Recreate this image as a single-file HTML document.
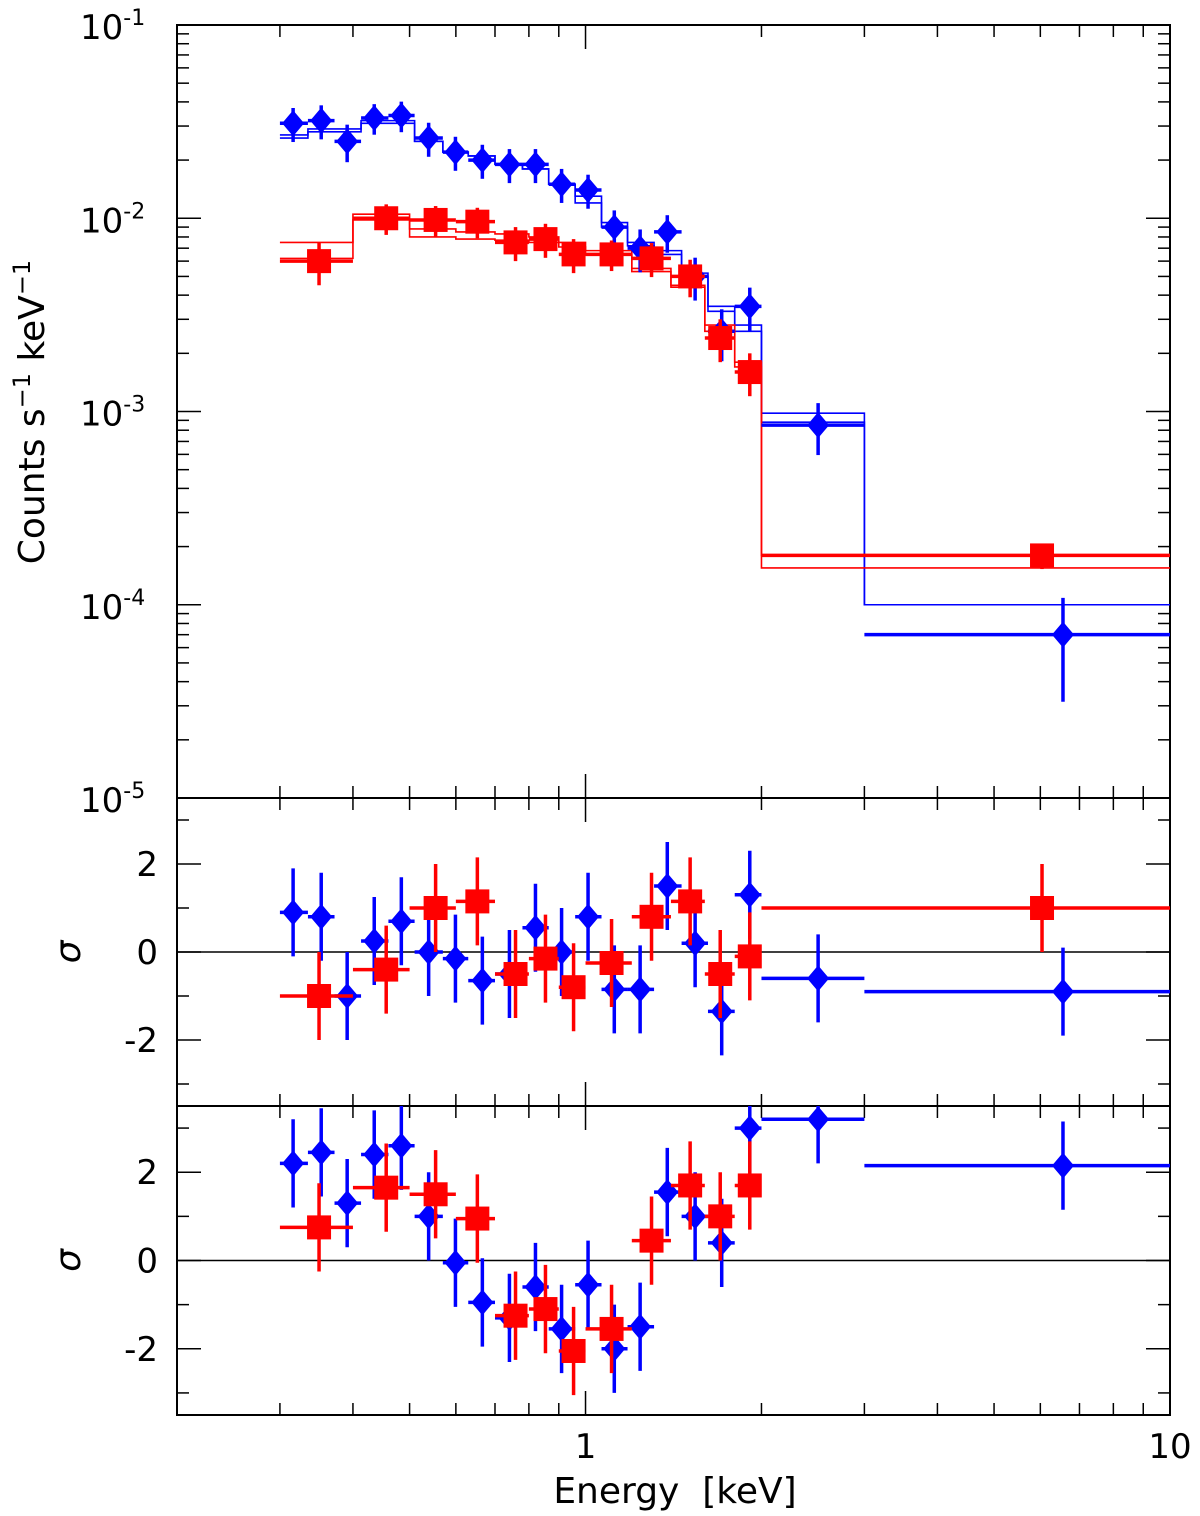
<!DOCTYPE html>
<html><head><meta charset="utf-8"><style>
html,body{margin:0;padding:0;background:#fff;}
svg{display:block;font-family:"DejaVu Sans","Liberation Sans",sans-serif;}
</style></head><body>
<svg id="chart" width="1200" height="1516" viewBox="0 0 1200 1516" xmlns="http://www.w3.org/2000/svg"></svg>
<script>
// ---- data ----
const blueE = [0.316,0.353,0.391,0.435,0.484,0.539,0.599,0.666,0.741,0.821,0.910,1.01,1.12,1.24,1.38,1.54,1.71,1.91,2.5,6.56];
const blueLo = [0.30,0.335,0.372,0.413,0.46,0.51,0.57,0.63,0.70,0.78,0.865,0.96,1.065,1.18,1.31,1.46,1.62,1.80,2.0,3.0];
const blueHi = [0.335,0.372,0.413,0.46,0.51,0.57,0.63,0.70,0.78,0.865,0.96,1.065,1.18,1.31,1.46,1.62,1.80,2.0,3.0,10];
const blueY = [0.031,0.032,0.025,0.033,0.034,0.026,0.022,0.020,0.019,0.019,0.015,0.014,0.009,0.007,0.0085,0.005,0.0026,0.0035,0.00085,0.00007];
const blueErr = [0.2,0.2,0.22,0.18,0.18,0.2,0.2,0.2,0.2,0.2,0.2,0.2,0.22,0.25,0.22,0.25,0.3,0.25,0.3,0.55];
const blueModel1 = [0.026,0.028,0.028,0.031,0.031,0.025,0.022,0.021,0.019,0.018,0.015,0.013,0.0095,0.0075,0.0068,0.0052,0.0035,0.0028,0.00098,0.0001];
const blueModel2 = [0.027,0.029,0.029,0.032,0.032,0.025,0.022,0.021,0.019,0.018,0.015,0.012,0.009,0.0072,0.0065,0.005,0.0033,0.0026,0.00088,0.0001];
const redE = [0.35,0.456,0.554,0.653,0.759,0.854,0.954,1.108,1.297,1.51,1.70,1.91,6.04];
const redLo = [0.30,0.40,0.50,0.60,0.70,0.80,0.90,1.0,1.2,1.4,1.6,1.8,2.0];
const redHi = [0.40,0.50,0.60,0.70,0.80,0.90,1.0,1.2,1.4,1.6,1.8,2.0,10];
const redY = [0.006,0.010,0.0098,0.0096,0.0075,0.0078,0.0065,0.0065,0.0062,0.005,0.0024,0.0016,0.00018];
const redErr = [0.25,0.18,0.18,0.18,0.2,0.2,0.2,0.18,0.2,0.22,0.25,0.25,0.15];
const redModel1 = [0.0075,0.0105,0.0088,0.0085,0.0083,0.008,0.0075,0.0068,0.0055,0.0045,0.0028,0.0018,0.00018];
const redModel2 = [0.0062,0.0098,0.0080,0.0078,0.0077,0.0075,0.0071,0.0065,0.0053,0.0044,0.0026,0.0017,0.000155];
const blueRes1 = [0.9,0.8,-1.0,0.25,0.7,0.0,-0.15,-0.65,-0.5,0.55,0.0,0.8,-0.85,-0.85,1.5,0.2,-1.35,1.3,-0.6,-0.9];
const redRes1 = [-1.0,-0.4,1.0,1.15,-0.5,-0.15,-0.8,-0.25,0.8,1.15,-0.5,-0.1,1.0];
const blueRes2 = [2.2,2.45,1.3,2.4,2.6,1.0,-0.05,-0.95,-1.3,-0.6,-1.55,-0.55,-2.0,-1.5,1.55,1.0,0.4,3.0,3.2,2.15];
const redRes2 = [0.75,1.65,1.5,0.95,-1.25,-1.1,-2.05,-1.55,0.45,1.7,1.0,1.7,4.5];
const yTickLabels = ["10","10","10","10","10"];
const yTickExp = ["-1","-2","-3","-4","-5"];
const resTicks = [-2,0,2];

// ---- axes ----
const L=177,R=1170;
function xs(e){ return L + (Math.log10(e)-Math.log10(0.2))/(Math.log10(10)-Math.log10(0.2))*(R-L); }
const T0=25,T1=798;
function ys(v){ return T0 + (-1 - Math.log10(v))/4*(T1-T0); }
const P2={top:798,bot:1106}, P3={top:1106,bot:1415};
function yr(p,v){ const c=(p.top+p.bot)/2; return c - v/7*(p.bot-p.top); }

const svg=document.getElementById('chart');
const NS='http://www.w3.org/2000/svg';
function el(tag,attrs,parent){const e=document.createElementNS(NS,tag);for(const k in attrs)e.setAttribute(k,attrs[k]);(parent||svg).appendChild(e);return e;}
function line(x1,y1,x2,y2,c,w,g){return el('line',{x1,y1,x2,y2,stroke:c,'stroke-width':w},g);}

const frame=el('g',{});


el('rect',{x:L,y:T0,width:R-L,height:1415-T0,fill:'none',stroke:'#000','stroke-width':2},frame);
line(L,798,R,798,'#000',2,frame);
line(L,1106,R,1106,'#000',2,frame);

const minors=[0.2,0.3,0.4,0.5,0.6,0.7,0.8,0.9,1,2,3,4,5,6,7,8,9,10];
[[T0,T1],[798,1106],[1106,1415]].forEach(([a,b])=>{
  minors.forEach(m=>{const x=xs(m);const len=(m===1||m===10)?24:12;
    line(x,a,x,a+len,'#000',1.5,frame);line(x,b,x,b-len,'#000',1.5,frame);});
});
for(let d=-5;d<=-1;d++){
  const y=ys(Math.pow(10,d));
  line(L,y,L+24,y,'#000',1.5,frame);line(R,y,R-24,y,'#000',1.5,frame);
  if(d<-1) for(let k=2;k<=9;k++){const yy=ys(k*Math.pow(10,d));line(L,yy,L+12,yy,'#000',1.5,frame);line(R,yy,R-12,yy,'#000',1.5,frame);}
}
yTickLabels.forEach((t,i)=>{
  const y=ys(Math.pow(10,-1-i));
  const tx=el('text',{x:80,y:y+14,'font-size':34},frame);
  
  
  tx.textContent=t;
  const sp=el('tspan',{dy:-14,'font-size':22},tx);sp.textContent=yTickExp[i];
});
[P2,P3].forEach(p=>{
  for(let v=-3;v<=3;v++){const y=yr(p,v);const len=(v%2===0)?24:12;
    line(L,y,L+len,y,'#000',1.5,frame);line(R,y,R-len,y,'#000',1.5,frame);}
  line(L,yr(p,0),R,yr(p,0),'#000',1.5,frame);
  resTicks.forEach(v=>{const t=el('text',{x:158,y:yr(p,v)+12,'font-size':34,'text-anchor':'end'},frame);
    
    
    t.textContent=String(v);});
  const s=el('text',{x:0,y:0,'font-size':36,'font-style':'italic','text-anchor':'middle',transform:`translate(80,${yr(p,0)}) rotate(-90)`},frame);
  
  
  s.textContent='σ';
});
[[1,'1'],[10,'10']].forEach(([v,t])=>{const tx=el('text',{x:xs(v),y:1458,'font-size':34,'text-anchor':'middle'});
  
  
  tx.textContent=t;});
const xt=el('text',{x:675,y:1503,'font-size':36,'text-anchor':'middle',style:'white-space:pre'});


xt.textContent='Energy  [keV]';
const yt=el('text',{x:0,y:0,'font-size':36,'text-anchor':'middle',transform:'translate(44,412) rotate(-90)'});


yt.textContent='Counts s';
let sp=el('tspan',{dy:-14,'font-size':24},yt);sp.textContent='−1';
sp=el('tspan',{dy:14},yt);sp.textContent=' keV';
sp=el('tspan',{dy:-14,'font-size':24},yt);sp.textContent='−1';

const defs=el('defs',{});
[['c1',T0,T1],['c2',798,1106],['c3',1106,1415]].forEach(([id,a,b])=>{const cp=el('clipPath',{id},defs);el('rect',{x:L,y:a,width:R-L,height:b-a},cp);});

function step(lo,hi,vals,yf,color,g){
  let d='';
  vals.forEach((v,i)=>{const y=yf(v);d+=(i===0?'M':'L')+xs(lo[i])+','+y+'L'+xs(hi[i])+','+y;});
  el('path',{d,fill:'none',stroke:color,'stroke-width':1.6},g);
}
function marker(x,y,color,shape,g){
  if(shape==='d') el('path',{d:`M${x},${y-13}L${x+11},${y}L${x},${y+13}L${x-11},${y}Z`,fill:color},g);
  else el('rect',{x:x-12,y:y-12,width:24,height:24,fill:color},g);
}
const gTop=el('g',{'clip-path':'url(#c1)'});


step(blueLo,blueHi,blueModel1,ys,'#0000ff',gTop);
step(blueLo,blueHi,blueModel2,ys,'#0000ff',gTop);
step(redLo,redHi,redModel1,ys,'#ff0000',gTop);
step(redLo,redHi,redModel2,ys,'#ff0000',gTop);
function pts(E,lo,hi,Y,err,yf,color,shape,g,name,isRes){
  E.forEach((e,i)=>{
    const gg=el('g',{},g);
    
    
    const x=xs(e),y=yf(Y[i]);
    line(xs(lo[i]),y,xs(hi[i]),y,color,3.5,gg);
    let y1,y2;
    if(isRes){y1=yf(Y[i]+1);y2=yf(Y[i]-1);} else {y1=yf(Y[i]*(1+err[i]));y2=yf(Y[i]*Math.max(0.05,1-err[i]));}
    line(x,y1,x,y2,color,3.5,gg);
    marker(x,y,color,shape,gg);
  });
}
pts(blueE,blueLo,blueHi,blueY,blueErr,ys,'#0000ff','d',gTop,'blue-data-point',false);
pts(redE,redLo,redHi,redY,redErr,ys,'#ff0000','s',gTop,'red-data-point',false);
const g2=el('g',{'clip-path':'url(#c2)'});


pts(blueE,blueLo,blueHi,blueRes1,null,v=>yr(P2,v),'#0000ff','d',g2,'blue-residual',true);
pts(redE,redLo,redHi,redRes1,null,v=>yr(P2,v),'#ff0000','s',g2,'red-residual',true);
const g3=el('g',{'clip-path':'url(#c3)'});


pts(blueE,blueLo,blueHi,blueRes2,null,v=>yr(P3,v),'#0000ff','d',g3,'blue-residual',true);
pts(redE,redLo,redHi,redRes2,null,v=>yr(P3,v),'#ff0000','s',g3,'red-residual',true);
</script>
</body></html>
